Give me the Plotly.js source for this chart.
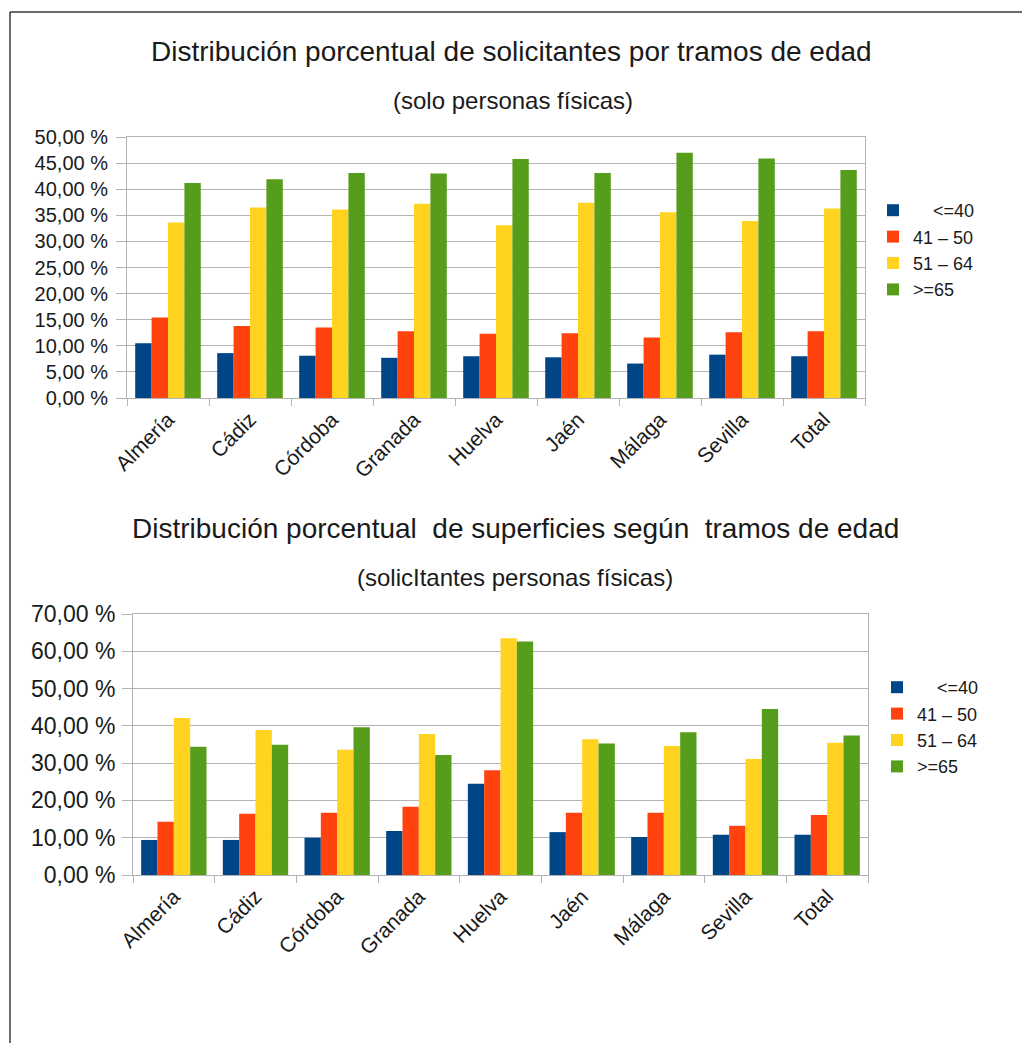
<!DOCTYPE html>
<html>
<head>
<meta charset="utf-8">
<script src="https://cdn.plot.ly/plotly-3.0.1.min.js"></script>
<style>
  html, body { margin: 0; padding: 0; background: #ffffff; }
  #chart { width: 1022px; height: 1043px; }
</style>
</head>
<body>
<div id="chart"></div>
<script>
// ---------- DATA ----------
const categories = ['Almería', 'Cádiz', 'Córdoba', 'Granada', 'Huelva', 'Jaén', 'Málaga', 'Sevilla', 'Total'];
const seriesNames = ['\u00a0\u00a0\u00a0\u00a0&lt;=40', '41 – 50', '51 – 64', '&gt;=65'];

// Chart 1: solicitantes (solo personas físicas), %
const solicLe40  = [10.5, 8.6, 8.1, 7.7, 8.0, 7.8, 6.6, 8.3, 8.0];
const solic41_50 = [15.4, 13.8, 13.5, 12.8, 12.3, 12.4, 11.6, 12.6, 12.8];
const solic51_64 = [33.6, 36.5, 36.1, 37.2, 33.1, 37.4, 35.6, 33.9, 36.3];
const solicGe65  = [41.2, 41.9, 43.1, 43.0, 45.8, 43.1, 47.0, 45.9, 43.7];

// Chart 2: superficies (solicitantes personas físicas), %
const supLe40  = [9.4, 9.4, 10.0, 11.8, 24.5, 11.5, 10.2, 10.8, 10.8];
const sup41_50 = [14.3, 16.4, 16.7, 18.3, 28.1, 16.7, 16.7, 13.2, 16.1];
const sup51_64 = [42.1, 38.9, 33.6, 37.8, 63.5, 36.4, 34.6, 31.1, 35.5];
const supGe65  = [34.4, 34.9, 39.6, 32.2, 62.6, 35.3, 38.3, 44.5, 37.4];

const title1 = 'Distribución porcentual de solicitantes por tramos de edad';
const subtitle1 = '(solo personas físicas)';
const title2 = 'Distribución porcentual\u00a0 de superficies según\u00a0 tramos de edad';
const subtitle2 = '(solicItantes personas físicas)';

// ---------- STYLE ----------
const colors = ['#004586', '#ff420e', '#ffd320', '#579d1c'];
const W = 1022, H = 1043;
const FONT = '"Liberation Sans", Arial, sans-serif';
const TXT = '#1a1a1a';
const GRID = '#b3b3b3';
const px = v => v / W;
const py = v => 1 - v / H;

const set1 = [solicLe40, solic41_50, solic51_64, solicGe65];
const set2 = [supLe40, sup41_50, sup51_64, supGe65];

const traces = [];
set1.forEach((vals, i) => traces.push({
  type: 'bar', x: categories, y: vals, name: seriesNames[i],
  marker: { color: colors[i], line: { width: 0 } },
  xaxis: 'x', yaxis: 'y', legend: 'legend',
  hoverinfo: 'none'
}));
set2.forEach((vals, i) => traces.push({
  type: 'bar', x: categories, y: vals, name: seriesNames[i],
  marker: { color: colors[i], line: { width: 0 } },
  xaxis: 'x2', yaxis: 'y2', legend: 'legend2',
  hoverinfo: 'none'
}));

function xAxis(dom, anchor, size) {
  return {
    domain: dom, anchor: anchor, type: 'category',
    showline: true, linecolor: GRID, linewidth: 1, mirror: true,
    ticks: 'outside', tickson: 'boundaries', ticklen: 7, tickcolor: GRID, tickwidth: 1,
    tickangle: -45, tickfont: { family: FONT, size: size, color: TXT },
    showgrid: false, fixedrange: true
  };
}
function yAxis(dom, anchor, max, step, size, standoff) {
  return {
    domain: dom, anchor: anchor, range: [0, max], dtick: step, tick0: 0,
    tickformat: '.2f', ticksuffix: ' %',
    showline: true, linecolor: GRID, linewidth: 1, mirror: true,
    showgrid: true, gridcolor: GRID, gridwidth: 1, zeroline: false,
    ticks: 'outside', ticklen: 10, tickcolor: GRID, tickwidth: 1,
    ticklabelstandoff: standoff,
    tickfont: { family: FONT, size: size, color: TXT }, fixedrange: true
  };
}
function legendBox(x, y) {
  return {
    x: x, y: y, xanchor: 'left', yanchor: 'top', xref: 'paper', yref: 'paper',
    font: { family: FONT, size: 18, color: TXT },
    bgcolor: 'rgba(0,0,0,0)', borderwidth: 0,
    traceorder: 'normal', itemclick: false, itemdoubleclick: false
  };
}
function ann(text, x, y, size) {
  return { text: text, x: px(x), y: py(y), xref: 'paper', yref: 'paper',
    xanchor: 'center', yanchor: 'middle', showarrow: false,
    font: { family: FONT, size: size, color: TXT } };
}

const layout = {
  width: W, height: H,
  margin: { l: 0, r: 0, t: 0, b: 0, autoexpand: false },
  paper_bgcolor: '#ffffff', plot_bgcolor: '#ffffff',
  separators: ',.',
  barmode: 'group', bargap: 0.2, bargroupgap: 0,
  showlegend: true,
  font: { family: FONT, color: TXT },
  xaxis:  xAxis([px(127), px(865)], 'y', 21),
  yaxis:  yAxis([py(398), py(137)], 'x', 50, 5, 20, 4),
  xaxis2: xAxis([px(133), px(868)], 'y2', 21),
  yaxis2: yAxis([py(875), py(614)], 'x2', 70, 10, 23, 2),
  legend:  legendBox(px(873), py(192)),
  legend2: legendBox(px(877), py(669)),
  annotations: [
    ann(title1, 511, 52, 28),
    ann(subtitle1, 513, 100, 24),
    ann(title2, 515, 528, 28),
    ann(subtitle2, 515, 577, 24)
  ],
  shapes: [
    { type: 'line', xref: 'paper', yref: 'paper', x0: px(10), x1: 1, y0: py(12), y1: py(12),
      line: { color: '#3a3a3a', width: 1.5 } },
    { type: 'line', xref: 'paper', yref: 'paper', x0: px(10), x1: px(10), y0: py(12), y1: 0,
      line: { color: '#3a3a3a', width: 1.5 } }
  ]
};

Plotly.newPlot('chart', traces, layout, { staticPlot: true, displayModeBar: false });
</script>
</body>
</html>
